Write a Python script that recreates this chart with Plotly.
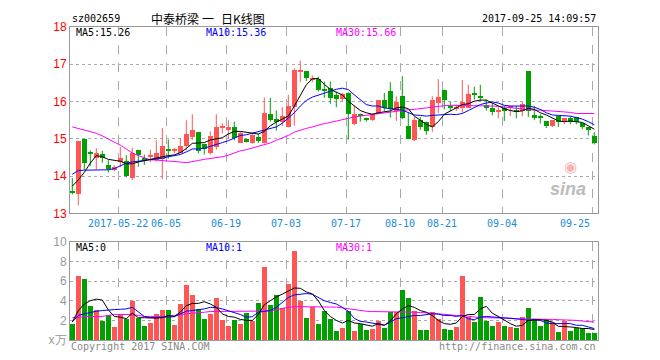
import plotly.graph_objects as go

# ---------------- data ----------------
open_ = [13.58,13.51,14.99,14.62,14.50,14.60,14.29,14.17,14.39,14.41,
         13.95,14.71,14.46,14.53,14.43,14.47,14.70,14.69,14.63,14.81,
         15.04,15.18,14.87,14.63,14.78,15.30,15.24,15.31,14.90,14.99,
         14.90,15.04,14.90,15.68,15.53,15.46,15.31,15.85,16.80,16.82,
         16.58,16.60,16.33,16.36,16.17,16.07,16.23,15.41,15.68,15.57,
         15.50,15.68,16.03,16.29,15.75,16.14,15.35,14.97,15.50,15.46,
         15.32,15.96,16.32,15.86,15.82,15.83,15.83,16.21,16.14,15.92,
         15.83,15.74,15.83,15.84,15.76,15.76,16.82,15.64,15.58,15.48,
         15.35,15.61,15.44,15.57,15.59,15.42,15.31,15.07]
close = [13.56,14.95,14.36,14.60,14.61,14.50,14.18,14.24,14.50,14.01,
         14.63,14.56,14.44,14.55,14.61,14.82,14.68,14.71,14.81,15.13,
         15.25,14.68,14.74,15.07,15.31,15.32,15.31,15.03,15.15,14.91,
         15.11,14.94,15.70,15.50,15.46,15.61,15.88,16.86,16.82,16.62,
         16.64,16.30,16.31,16.10,16.07,16.20,15.68,15.68,15.60,15.50,
         15.68,16.03,15.83,15.79,15.98,15.55,15.00,15.50,15.32,15.20,
         16.03,16.12,16.03,15.84,15.84,15.99,16.20,16.19,16.10,15.83,
         15.72,15.76,15.75,15.86,15.74,15.94,15.75,15.57,15.56,15.35,
         15.50,15.44,15.55,15.44,15.44,15.31,15.24,14.90]
high = [13.95,14.95,15.00,14.69,14.75,14.68,14.43,14.29,14.78,14.56,
        14.76,14.71,14.58,14.71,14.97,15.29,14.98,14.76,15.02,15.50,
        15.66,15.18,14.87,15.20,15.66,15.42,15.50,15.46,15.20,14.99,
        15.15,15.13,16.11,16.10,15.76,15.85,16.18,16.89,17.10,16.82,
        16.70,16.67,16.54,16.54,16.27,16.23,16.25,15.89,15.68,15.57,
        15.68,16.03,16.23,16.52,16.14,16.68,15.70,15.59,15.59,15.46,
        16.14,16.60,16.32,15.99,15.92,16.58,16.45,16.40,16.45,16.05,
        15.96,15.85,15.89,15.89,15.88,15.99,16.82,15.88,15.66,15.48,
        15.50,15.61,15.55,15.61,15.59,15.42,15.31,15.18]
low = [13.51,13.22,14.17,14.27,14.18,14.36,14.10,14.13,14.24,13.97,
       13.89,14.25,14.30,14.37,14.39,13.92,14.47,14.61,14.61,14.69,
       14.97,14.61,14.58,14.58,14.71,15.15,15.00,14.96,14.89,14.90,
       14.87,14.89,14.87,15.46,15.22,15.35,15.31,15.35,16.52,16.55,
       16.52,16.27,16.10,15.94,15.85,16.01,14.98,15.37,15.46,15.46,
       15.48,15.66,15.75,15.57,15.48,15.53,15.00,14.94,15.24,15.11,
       15.19,15.70,15.79,15.75,15.75,15.70,15.83,16.05,16.01,15.76,
       15.63,15.55,15.48,15.61,15.55,15.61,15.59,15.50,15.41,15.29,
       15.32,15.32,15.39,15.39,15.39,15.26,15.09,14.85]
ma5 = [13.73,13.90,14.10,14.35,14.55,14.52,14.45,14.43,14.40,14.33,
       14.33,14.38,14.42,14.45,14.50,14.52,14.55,14.57,14.63,14.74,
       14.88,14.88,14.90,14.97,15.00,15.03,15.13,15.20,15.20,15.18,
       15.15,15.13,15.20,15.35,15.45,15.53,15.61,15.88,16.18,16.45,
       16.61,16.62,16.46,16.33,16.25,16.18,16.01,15.88,15.76,15.70,
       15.66,15.70,15.72,15.75,15.83,15.85,15.81,15.61,15.50,15.39,
       15.32,15.46,15.66,15.75,15.85,15.92,15.94,16.01,16.04,16.04,
       15.96,15.88,15.81,15.76,15.73,15.75,15.82,15.79,15.70,15.64,
       15.55,15.48,15.46,15.48,15.46,15.44,15.35,15.26]
ma10 = [14.05,14.15,14.16,14.16,14.16,14.16,14.17,14.20,14.28,14.35,
        14.38,14.40,14.42,14.43,14.45,14.48,14.52,14.55,14.58,14.65,
        14.73,14.73,14.75,14.80,14.86,14.90,14.95,15.03,15.09,15.11,
        15.15,15.20,15.24,15.28,15.32,15.42,15.55,15.70,15.88,16.03,
        16.12,16.17,16.23,16.29,16.33,16.36,16.32,16.18,16.05,15.92,
        15.88,15.88,15.83,15.82,15.79,15.77,15.70,15.64,15.63,15.61,
        15.63,15.64,15.65,15.66,15.65,15.68,15.76,15.85,15.92,15.96,
        15.99,15.96,15.90,15.88,15.88,15.89,15.88,15.85,15.79,15.70,
        15.64,15.63,15.63,15.61,15.57,15.53,15.46,15.38]
ma30 = [15.32,15.28,15.24,15.20,15.15,15.08,15.00,14.92,14.83,14.73,
        14.62,14.55,14.50,14.44,14.43,14.42,14.42,14.40,14.38,14.36,
        14.38,14.42,14.45,14.47,14.49,14.52,14.56,14.62,14.68,14.71,
        14.75,14.79,14.84,14.89,14.96,15.02,15.09,15.18,15.24,15.28,
        15.32,15.37,15.41,15.44,15.47,15.50,15.55,15.59,15.61,15.64,
        15.66,15.68,15.70,15.72,15.75,15.76,15.78,15.79,15.82,15.83,
        15.85,15.88,15.89,15.90,15.90,15.90,15.90,15.90,15.90,15.89,
        15.88,15.87,15.85,15.83,15.82,15.81,15.79,15.77,15.77,15.76,
        15.75,15.75,15.72,15.71,15.68,15.68,15.68,15.68]
volume = [1.6,6.5,6.2,3.5,3.1,2.0,2.6,1.3,2.7,2.2,
          4.0,2.3,1.4,1.7,2.7,3.1,3.1,1.5,3.7,5.6,
          4.6,3.2,2.2,2.7,4.3,2.1,1.4,2.1,1.6,2.8,
          2.0,3.8,7.5,3.6,4.6,3.3,5.7,9.1,4.0,2.3,
          3.4,1.6,3.0,2.2,0.93,1.23,3.0,0.93,1.67,1.0,
          1.1,2.0,1.23,2.83,2.83,5.1,4.3,3.0,1.03,1.03,
          2.83,2.17,1.1,1.03,1.3,6.5,2.33,1.83,4.4,2.0,
          1.4,1.83,1.4,1.3,1.23,2.4,3.3,2.17,1.4,2.13,
          1.83,0.8,1.9,0.93,1.27,1.27,0.7,0.7]
vma5 = [1.83,3.00,3.67,4.00,4.17,4.07,3.07,2.40,2.33,2.17,
        2.73,2.27,2.27,2.23,2.23,2.27,2.50,2.40,2.83,3.50,
        3.73,3.73,3.90,3.67,3.33,2.67,2.40,2.33,2.10,2.00,
        2.00,2.60,3.60,4.00,4.40,4.67,5.00,5.30,5.27,4.90,
        4.70,4.00,3.00,2.40,2.00,1.73,2.00,1.73,1.67,1.57,
        1.40,1.67,1.50,1.93,2.67,3.17,3.50,3.33,3.00,2.83,
        2.50,2.00,1.67,1.60,1.73,2.40,2.60,2.60,3.17,3.43,
        2.73,2.40,2.00,1.67,1.40,1.50,2.00,2.07,2.07,2.00,
        1.83,1.40,1.40,1.33,1.27,1.17,1.17,1.07]
vma10 = [1.83,2.50,2.67,2.83,2.93,3.00,3.07,3.10,3.13,3.17,
         3.33,2.83,2.40,2.27,2.30,2.33,2.33,2.37,2.67,2.93,
         3.00,3.07,3.17,3.33,3.30,3.17,3.00,2.83,2.60,2.33,
         2.37,2.83,2.90,3.00,3.33,3.83,4.33,4.60,4.67,4.73,
         4.67,4.33,4.00,3.83,3.67,3.33,2.93,2.20,1.90,1.83,
         1.73,1.60,1.50,1.83,2.17,2.27,2.40,2.50,2.50,2.60,
         2.67,2.63,2.50,2.50,2.40,2.50,2.17,2.07,2.33,2.40,
         2.35,2.33,2.27,2.27,2.20,2.10,2.00,2.07,2.00,1.73,
         1.67,1.67,1.67,1.67,1.50,1.50,1.33,1.17]
vma30 = [2.27,2.33,2.40,2.40,2.40,2.40,2.50,2.60,2.60,2.60,
         2.60,2.50,2.40,2.40,2.40,2.40,2.40,2.50,2.55,2.67,
         2.73,2.75,2.83,2.90,2.90,2.90,2.90,2.90,2.90,2.90,
         2.90,2.90,2.95,3.00,3.07,3.23,3.33,3.40,3.40,3.40,
         3.40,3.40,3.40,3.40,3.35,3.27,3.17,3.10,3.00,2.93,
         2.90,2.90,2.90,2.90,2.90,2.90,2.90,2.83,2.80,2.73,
         2.73,2.67,2.60,2.57,2.50,2.50,2.40,2.33,2.27,2.27,
         2.27,2.23,2.23,2.23,2.17,2.17,2.17,2.17,2.17,2.13,
         2.10,2.07,2.07,2.00,2.00,1.93,1.90,1.83]
date_idx = [8, 16, 26, 36, 46, 55, 62, 72, 87]
date_txt = ["2017-05-22", "06-05", "06-19", "07-03", "07-17", "08-10", "08-21", "09-04", "09-25"]
price_ticks = [13, 14, 15, 16, 17, 18]
vol_ticks = [0, 2, 4, 6, 8, 10]
vol_tick_txt = ["x万", "2", "4", "6", "8", "10"]

# ---------------- styling ----------------
RED = "#ff5555"
GREEN = "#00a000"
GRID = "#aaaaaa"
BORDER = "#999999"
MONO = "DejaVu Sans Mono"
CJK = "Noto Sans CJK SC"
n = len(close)
x = list(range(n))
up = [c >= o for o, c in zip(open_, close)]
colors = [RED if u else GREEN for u in up]

# the page has an 8px body margin: work in window pixels, convert to figure pixels
OFF = 8
WIN_W, WIN_H = 660, 360
W, H = WIN_W - OFF, WIN_H - OFF
L, R, T, B = 70, 598, 21, 340  # plot area in window pixels


def px(v):
    return (v - L) / (R - L)


def py(v):
    return (B - v) / (B - T)


fig = go.Figure()

# wicks
for col, flag in ((RED, True), (GREEN, False)):
    wx, wy = [], []
    for i in range(n):
        if up[i] == flag:
            wx += [i, i, None]
            wy += [low[i], high[i], None]
    fig.add_trace(go.Scatter(x=wx, y=wy, mode="lines", line=dict(color=col, width=1),
                             hoverinfo="skip", showlegend=False, xaxis="x", yaxis="y"))

# bodies
base = [min(o, c) for o, c in zip(open_, close)]
hgt = [max(abs(c - o), 0.03) for o, c in zip(open_, close)]
fig.add_trace(go.Bar(x=x, y=hgt, base=base, width=0.78, marker=dict(color=colors, line=dict(width=0)),
                     showlegend=False, xaxis="x", yaxis="y"))

# price MAs
for arr, col in ((ma30, "#ff00ff"), (ma10, "#0000ff"), (ma5, "#000000")):
    fig.add_trace(go.Scatter(x=x, y=arr, mode="lines", line=dict(color=col, width=1),
                             showlegend=False, xaxis="x", yaxis="y"))

# volume bars
fig.add_trace(go.Bar(x=x, y=volume, width=0.82, marker=dict(color=colors, line=dict(width=0)),
                     showlegend=False, xaxis="x2", yaxis="y2"))
for arr, col in ((vma30, "#ff00ff"), (vma10, "#0000ff"), (vma5, "#000000")):
    fig.add_trace(go.Scatter(x=x, y=arr, mode="lines", line=dict(color=col, width=1),
                             showlegend=False, xaxis="x2", yaxis="y2"))

grid_x = [i - 1 / 3 for i in date_idx]
xr = [-0.383, n - 1 + 0.617]
axis_common = dict(range=xr, tickvals=grid_x, showticklabels=False, showgrid=True,
                   gridcolor=GRID, griddash="dash", gridwidth=1, zeroline=False,
                   showline=True, linecolor=BORDER, linewidth=1, mirror=True, ticks="")

fig.update_layout(
    width=W, height=H, margin=dict(l=L - OFF, r=WIN_W - R, t=T - OFF, b=WIN_H - B),
    paper_bgcolor="white", plot_bgcolor="white", barmode="overlay", bargap=0,
    showlegend=False,
    xaxis=dict(anchor="y", **axis_common),
    xaxis2=dict(anchor="y2", **axis_common),
    yaxis=dict(domain=[(B - 211) / (B - T), 1], range=[13, 18], tickvals=price_ticks,
               showgrid=True, gridcolor=GRID, griddash="dot", zeroline=False,
               showline=True, linecolor=BORDER, linewidth=1, mirror=True, ticks="",
               tickfont=dict(color="#ff0000", size=12, family="Liberation Sans")),
    yaxis2=dict(domain=[0, 100 / (B - T)], range=[0, 10], tickvals=vol_ticks, ticktext=vol_tick_txt,
                showgrid=True, gridcolor=GRID, griddash="dot", zeroline=False,
                showline=True, linecolor=BORDER, linewidth=1, mirror=True, ticks="",
                tickfont=dict(color="#999999", size=12, family="Liberation Sans")),
)

ann = []


def text(xp, yp, s, color="#000", size=10, family=MONO, anchor="left"):
    ann.append(dict(x=px(xp), y=py(yp), xref="paper", yref="paper", text=s, showarrow=False,
                    xanchor=anchor, yanchor="middle", font=dict(color=color, size=size, family=family)))


text(70, 12.5, "sz002659")
text(149, 12.5, "中泰桥梁", size=12, family=CJK)
text(207.5, 12.5, "一", size=12, family=CJK, anchor="center")
text(219, 12.5, "日K线图", size=12, family=CJK)
text(598, 12.5, "2017-09-25 14:09:57", anchor="right")
text(74, 27, "MA5:15.26")
text(204, 27, "MA10:15.36", color="#0000ff")
text(334, 27, "MA30:15.66", color="#ff00ff")
text(74, 246, "MA5:0")
text(204, 246, "MA10:1", color="#0000ff")
text(334, 246, "MA30:1", color="#ff00ff")
text(69, 347, "Copyright 2017 SINA.COM", color="#888888")
text(598, 347, "http://finance.sina.com.cn", color="#888888", anchor="right")
text(568, 186, "<b><i>sina</i></b>", color="#bbbbbb", size=18, family="Liberation Sans", anchor="center")
text(570, 164, "◉", color="#f4b4b4", size=15, family="DejaVu Sans", anchor="center")

for gx, lab in zip(grid_x, date_txt):
    last = lab == date_txt[-1]
    ann.append(dict(x=gx, y=py(221.5), xref="x", yref="paper", text=lab, showarrow=False,
                    xanchor="right" if last else "center", yanchor="middle",
                    font=dict(color="#1a8bd5", size=10, family=MONO)))

fig.update_layout(annotations=ann)
fig.write_html("out.html")
